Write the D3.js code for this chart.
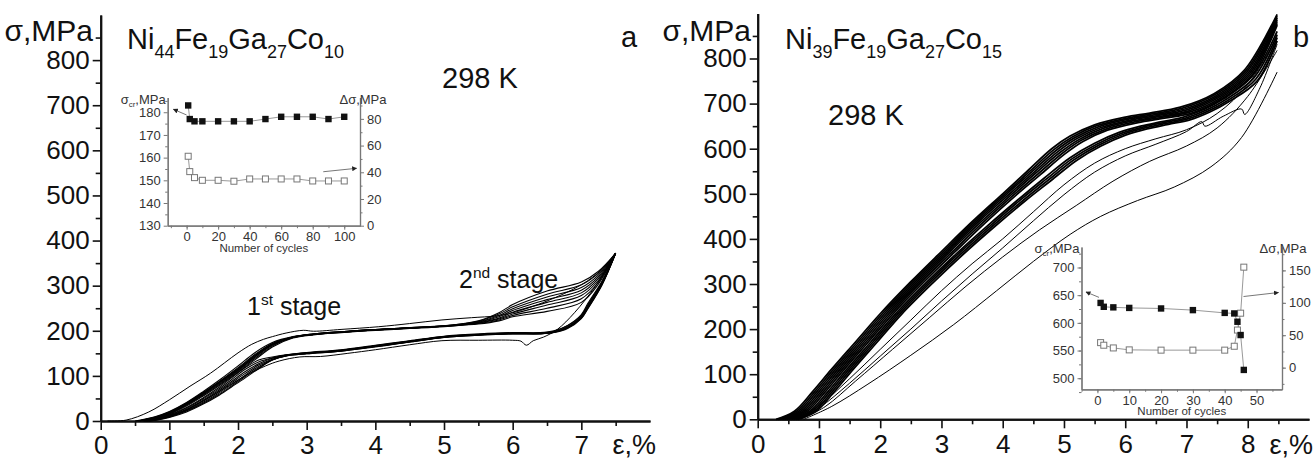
<!DOCTYPE html>
<html>
<head>
<meta charset="utf-8">
<script src="https://cdn.jsdelivr.net/npm/d3@7"></script>
<style>
	body { margin: 0; background: #fff; }
	svg { display: block; font-family: "Liberation Sans", Arial, sans-serif; }
</style>
</head>
<body>
<svg id="chart" width="1313" height="459"></svg>
<script>
// ---------- data: panel a (Ni44Fe19Ga27Co10), strain %, stress MPa ----------
const aFirstLoad = [[0.1,0],[0.37,2],[0.7,20],[1.0,47],[1.3,77],[1.6,106],[2.0,151],[2.2,170],[2.37,181],[2.5,187],[2.7,195],[2.95,201],[3.1,199],[3.5,203],[4.05,209],[4.5,216],[4.97,224],[5.4,229],[5.76,233],[6.0,240],[6.5,266],[7.0,302],[7.3,336],[7.5,372]];
const aFirstUnload = [[7.5,372],[7.2,298],[6.9,240],[6.65,203],[6.45,186],[6.3,178],[6.2,168],[6.12,177],[6.0,179],[5.5,179],[4.97,178],[4.5,169],[4.0,158],[3.6,150],[3.2,143],[2.9,142],[2.6,133],[2.4,122],[2.1,100],[1.8,72],[1.5,45],[1.2,21],[0.9,6],[0.7,0]];
const aLoading = [
	[[0.50,0],[0.8,10],[1.0,21],[1.25,41],[1.5,66],[1.75,93],[2.0,122],[2.25,152],[2.5,174],[2.8,187],[3.1,193],[3.5,198],[4.0,203],[4.5,207],[5.0,211],[5.5,222],[5.8,240],[6.0,258],[6.5,288],[7.0,308],[7.25,332],[7.5,372]],
	[[0.52,0],[0.8,9],[1.0,20],[1.25,40],[1.5,64],[1.75,90],[2.0,118],[2.25,148],[2.5,172],[2.8,186],[3.1,193],[3.5,198],[4.0,203],[4.5,207],[5.0,211],[5.5,221],[5.8,237],[6.0,253],[6.5,281],[7.0,302],[7.25,328],[7.5,372]],
	[[0.55,0],[0.8,8],[1.0,19],[1.25,38],[1.5,62],[1.75,88],[2.0,115],[2.25,145],[2.5,170],[2.8,186],[3.1,192],[3.5,197],[4.0,202],[4.5,206],[5.0,210],[5.5,220],[5.8,234],[6.0,249],[6.5,275],[7.0,296],[7.25,324],[7.5,372]],
	[[0.57,0],[0.8,7],[1.0,17],[1.25,36],[1.5,60],[1.75,85],[2.0,112],[2.25,142],[2.5,168],[2.8,185],[3.1,192],[3.5,197],[4.0,202],[4.5,206],[5.0,210],[5.5,219],[5.8,231],[6.0,245],[6.5,269],[7.0,290],[7.25,320],[7.5,372]],
	[[0.60,0],[0.8,6],[1.0,16],[1.25,35],[1.5,58],[1.75,83],[2.0,110],[2.25,139],[2.5,166],[2.8,185],[3.1,192],[3.5,197],[4.0,202],[4.5,206],[5.0,210],[5.5,218],[5.8,228],[6.0,241],[6.5,263],[7.0,284],[7.25,316],[7.5,372]],
	[[0.62,0],[0.8,5],[1.0,15],[1.25,33],[1.5,56],[1.75,81],[2.0,108],[2.25,136],[2.5,164],[2.8,184],[3.1,191],[3.5,196],[4.0,201],[4.5,205],[5.0,209],[5.5,217],[5.8,226],[6.0,237],[6.5,257],[7.0,278],[7.25,312],[7.5,372]],
	[[0.55,0],[0.8,8],[1.0,19],[1.25,39],[1.5,63],[1.75,89],[2.0,116],[2.25,146],[2.5,171],[2.8,186],[3.1,193],[3.5,198],[4.0,203],[4.5,207],[5.0,211],[5.5,216],[5.8,224],[6.0,234],[6.5,250],[7.0,271],[7.25,308],[7.5,372]],
	[[0.58,0],[0.8,7],[1.0,18],[1.25,37],[1.5,61],[1.75,87],[2.0,113],[2.25,143],[2.5,169],[2.8,185],[3.1,192],[3.5,197],[4.0,202],[4.5,206],[5.0,210],[5.5,215],[5.8,222],[6.0,231],[6.5,243],[7.0,263],[7.25,304],[7.5,372]]
];
const aUnloading = [
	[[7.5,372],[7.3,310],[7.1,262],[7.0,236],[6.8,212],[6.6,200],[6.4,196],[6.0,196],[5.5,193],[5.0,188],[4.5,178],[4.0,168],[3.5,158],[3.0,152],[2.7,147],[2.5,142],[2.3,135],[2.1,118],[1.9,95],[1.7,72],[1.5,52],[1.25,30],[1.0,14],[0.8,5],[0.62,0]],
	[[7.5,372],[7.3,308],[7.1,259],[7.0,234],[6.8,211],[6.6,199],[6.4,195],[6.0,195],[5.5,192],[5.0,187],[4.5,177],[4.0,167],[3.5,157],[3.0,151],[2.7,146],[2.5,140],[2.3,131],[2.1,114],[1.9,91],[1.7,69],[1.5,50],[1.25,28],[1.0,13],[0.8,4],[0.63,0]],
	[[7.5,372],[7.3,306],[7.1,257],[7.0,232],[6.8,209],[6.6,198],[6.4,195],[6.0,195],[5.5,192],[5.0,187],[4.5,177],[4.0,166],[3.5,157],[3.0,151],[2.7,146],[2.5,139],[2.3,127],[2.1,109],[1.9,87],[1.7,66],[1.5,47],[1.25,26],[1.0,12],[0.8,4],[0.64,0]],
	[[7.5,372],[7.3,304],[7.1,255],[7.0,231],[6.8,208],[6.6,197],[6.4,194],[6.0,194],[5.5,191],[5.0,186],[4.5,176],[4.0,166],[3.5,156],[3.0,150],[2.7,145],[2.5,137],[2.3,124],[2.1,105],[1.9,84],[1.7,63],[1.5,45],[1.25,25],[1.0,11],[0.8,3],[0.65,0]],
	[[7.5,372],[7.3,303],[7.1,253],[7.0,229],[6.8,207],[6.6,197],[6.4,194],[6.0,194],[5.5,191],[5.0,186],[4.5,176],[4.0,165],[3.5,156],[3.0,150],[2.7,145],[2.5,136],[2.3,121],[2.1,101],[1.9,80],[1.7,60],[1.5,42],[1.25,23],[1.0,10],[0.8,3],[0.66,0]],
	[[7.5,372],[7.3,302],[7.1,251],[7.0,228],[6.8,206],[6.6,196],[6.4,193],[6.0,193],[5.5,190],[5.0,185],[4.5,175],[4.0,165],[3.5,155],[3.0,149],[2.7,144],[2.5,135],[2.3,118],[2.1,98],[1.9,77],[1.7,57],[1.5,40],[1.25,22],[1.0,9],[0.8,2],[0.67,0]],
	[[7.5,372],[7.3,301],[7.1,250],[7.0,227],[6.8,205],[6.6,196],[6.4,193],[6.0,193],[5.5,190],[5.0,185],[4.5,175],[4.0,164],[3.5,155],[3.0,149],[2.7,144],[2.5,135],[2.3,116],[2.1,95],[1.9,75],[1.7,55],[1.5,38],[1.25,20],[1.0,8],[0.8,2],[0.68,0]]
];

// ---------- data: panel b (Ni39Fe19Ga27Co15) ----------
const bUpper = [
	[[0.30,0],[0.6,18],[0.9,62],[1.2,110],[1.6,172],[2.0,234],[2.5,305],[3.0,372],[3.5,438],[4.0,500],[4.4,550],[4.8,600],[5.1,628],[5.5,653],[6.0,670],[6.4,679],[6.9,692],[7.45,722],[7.95,775],[8.48,898]],
	[[0.335,0],[0.635,18],[0.935,62],[1.235,110],[1.635,172],[2.035,234],[2.535,305],[3.035,372],[3.535,438],[4.035,500],[4.435,549],[4.835,598],[5.135,626],[5.535,651],[6.035,668],[6.435,677],[6.935,690],[7.47,720],[7.97,773],[8.48,894]],
	[[0.37,0],[0.67,18],[0.97,62],[1.27,110],[1.67,172],[2.07,234],[2.57,305],[3.07,372],[3.57,438],[4.07,500],[4.47,548],[4.87,596],[5.17,624],[5.57,649],[6.07,666],[6.47,675],[6.97,688],[7.49,718],[7.99,771],[8.48,890]],
	[[0.405,0],[0.705,18],[1.005,62],[1.305,110],[1.705,172],[2.105,234],[2.605,305],[3.105,372],[3.605,438],[4.105,499],[4.505,547],[4.905,594],[5.205,622],[5.605,647],[6.105,664],[6.505,673],[7.005,686],[7.51,716],[8.01,769],[8.48,886]],
	[[0.44,0],[0.74,18],[1.04,62],[1.34,110],[1.74,172],[2.14,234],[2.64,305],[3.14,372],[3.64,437],[4.14,498],[4.54,546],[4.94,592],[5.24,620],[5.64,645],[6.14,662],[6.54,671],[7.04,684],[7.53,714],[8.03,767],[8.48,882]],
	[[0.475,0],[0.775,18],[1.075,62],[1.375,110],[1.775,172],[2.175,234],[2.675,305],[3.175,371],[3.675,436],[4.175,497],[4.575,544],[4.975,590],[5.275,618],[5.675,643],[6.175,660],[6.575,669],[7.075,682],[7.55,712],[8.05,765],[8.48,878]],
	[[0.51,0],[0.81,18],[1.11,62],[1.41,110],[1.81,172],[2.21,234],[2.71,304],[3.21,370],[3.71,435],[4.21,496],[4.61,542],[5.01,588],[5.31,616],[5.71,641],[6.21,658],[6.61,667],[7.11,680],[7.57,710],[8.07,763],[8.48,874]]
];
const bLower = [
	[[0.55,0],[0.85,18],[1.15,62],[1.45,110],[1.85,172],[2.25,234],[2.75,303],[3.25,368],[3.76,430],[4.26,488],[4.68,535],[5.1,580],[5.5,612],[5.9,636],[6.25,650],[6.6,660],[6.95,670],[7.3,688],[7.6,710],[8.07,760],[8.48,860]],
	[[0.585,0],[0.885,18],[1.185,62],[1.485,110],[1.885,172],[2.285,234],[2.785,303],[3.285,368],[3.795,429],[4.295,487],[4.715,533],[5.135,578],[5.535,610],[5.935,634],[6.285,648],[6.635,658],[6.985,668],[7.33,686],[7.63,708],[8.1,757],[8.48,853]],
	[[0.62,0],[0.92,18],[1.22,62],[1.52,110],[1.92,172],[2.32,234],[2.82,303],[3.32,367],[3.83,428],[4.33,485],[4.75,531],[5.17,576],[5.57,608],[5.97,632],[6.32,646],[6.67,656],[7.02,666],[7.36,684],[7.66,706],[8.13,754],[8.48,846]],
	[[0.655,0],[0.955,18],[1.255,62],[1.555,110],[1.955,172],[2.355,234],[2.855,302],[3.355,366],[3.865,427],[4.365,484],[4.785,529],[5.205,574],[5.605,606],[6.005,630],[6.355,644],[6.705,654],[7.055,664],[7.39,682],[7.69,704],[8.16,751],[8.48,839]]
];
const bThin = [
	[[0.6,0],[1.0,30],[1.5,90],[2.0,155],[2.5,220],[3.0,285],[3.5,345],[4.0,400],[4.5,460],[5.0,520],[5.5,568],[6.0,600],[6.5,622],[7.0,642],[7.5,678],[8.0,742],[8.48,848]],
	[[0.65,0],[1.0,25],[1.5,80],[2.0,140],[2.5,200],[3.0,262],[3.5,322],[4.0,380],[4.5,440],[5.0,498],[5.5,548],[6.0,584],[6.5,610],[7.0,638],[7.25,660],[7.3,650],[7.6,672],[7.9,688],[7.95,676],[8.2,735],[8.48,832]],
	[[0.7,0],[1.1,28],[1.6,85],[2.2,155],[2.8,225],[3.4,295],[4.0,360],[4.6,420],[5.2,474],[5.8,528],[6.4,572],[7.0,606],[7.5,646],[8.0,716],[8.48,818]],
	[[0.75,0],[1.2,28],[1.8,78],[2.5,142],[3.2,210],[3.9,285],[4.5,350],[5.1,410],[5.6,450],[6.2,485],[6.8,515],[7.4,560],[7.9,625],[8.48,770]]
];

// ---------- insets ----------
const aCycles = [1, 2, 5, 10, 20, 30, 40, 50, 60, 70, 80, 90, 100];
const aSigmaCr = [183, 177, 176, 176, 176, 176, 176, 177, 178, 178, 178, 177, 178];
const aDeltaSigma = [52, 40.5, 36, 34, 34, 33.3, 35, 35, 35, 35, 33.5, 33.5, 33.5];
const bCycles = [1, 2, 5, 10, 20, 30, 40, 43, 44, 45, 46];
const bSigmaCr = [636, 629, 628, 627, 626, 623, 618, 617, 602, 578, 515];
const bDeltaSigma = [38.6, 34.6, 30.4, 27.4, 27, 27, 27, 33, 58, 84, 155];

const svg = d3.select("#chart");
const FONT = '"Liberation Sans", Arial, sans-serif';

svg.append("defs")
	.append("marker")
	.attr("id", "arr")
	.attr("viewBox", "0 0 10 10")
	.attr("refX", 9)
	.attr("refY", 5)
	.attr("markerWidth", 5)
	.attr("markerHeight", 5)
	.attr("orient", "auto")
	.append("path")
	.attr("d", "M0,0 L10,5 L0,10 z")
	.attr("fill", "#222");

// main scales
const xa = d3.scaleLinear().domain([0, 8]).range([100.7, 650]);
const ya = d3.scaleLinear().domain([0, 900]).range([421, 15]);
const xb = d3.scaleLinear().domain([0, 9]).range([757.7, 1309]);
const yb = d3.scaleLinear().domain([0, 900]).range([419.3, 13.4]);

function styleAxis(g, size) {
	g.attr("font-size", size).attr("font-family", FONT);
	g.select(".domain").attr("stroke-width", 2).attr("stroke", "#111");
	g.selectAll(".tick line").attr("stroke-width", 1.6).attr("stroke", "#111");
	g.selectAll(".tick text").attr("fill", "#111");
}

function mainAxes(x, y, xLabels, xMinor) {
	const y0 = y(0);
	const x0 = x.range()[0];
	svg.append("g")
		.attr("transform", `translate(0,${y0})`)
		.call(d3.axisBottom(x).tickValues(xMinor).tickSize(5).tickSizeOuter(0).tickFormat(""))
		.call(styleAxis, 26);
	svg.append("g")
		.attr("transform", `translate(0,${y0})`)
		.call(d3.axisBottom(x).tickValues(xLabels).tickSize(9).tickSizeOuter(0).tickPadding(6))
		.call(styleAxis, 26);
	svg.append("g")
		.attr("transform", `translate(${x0},0)`)
		.call(d3.axisLeft(y).tickValues(d3.range(50, 900, 100)).tickSize(5).tickSizeOuter(0).tickFormat(""))
		.call(styleAxis, 26);
	svg.append("g")
		.attr("transform", `translate(${x0},0)`)
		.call(d3.axisLeft(y).tickValues(d3.range(0, 900, 100)).tickSize(8).tickSizeOuter(0).tickPadding(3))
		.call(styleAxis, 26);
}

mainAxes(xa, ya, d3.range(0, 8, 1), d3.range(0.5, 8, 1));
mainAxes(xb, yb, d3.range(0, 9, 1), d3.range(0.5, 9, 1));

// curves
function drawCurves(list, x, y, w) {
	const line = d3.line()
		.x(d => x(d[0]))
		.y(d => y(d[1]))
		.curve(d3.curveCatmullRom.alpha(0.5));
	svg.append("g")
		.selectAll("path")
		.data(list)
		.join("path")
		.attr("d", line)
		.attr("fill", "none")
		.attr("stroke", "#000")
		.attr("stroke-width", w);
}
drawCurves([aFirstLoad, aFirstUnload], xa, ya, 1);
drawCurves(aLoading, xa, ya, 1.1);
drawCurves(aUnloading, xa, ya, 1.1);
drawCurves(bThin, xb, yb, 1);
drawCurves(bLower, xb, yb, 1.8);
drawCurves(bUpper, xb, yb, 1.8);

// texts for main panels
function addText(x, y, size, parts, anchor) {
	const t = svg.append("text")
		.attr("x", x).attr("y", y)
		.attr("font-size", size)
		.attr("font-family", FONT)
		.attr("fill", "#111")
		.attr("text-anchor", anchor || "start");
	let shift = 0;
	parts.forEach(p => {
		const s = t.append("tspan").text(p.t);
		const target = p.sub ? size * 0.3 : p.sup ? -size * 0.42 : 0;
		s.attr("dy", target - shift);
		shift = target;
		if (p.sub || p.sup) s.attr("font-size", size * 0.62);
	});
	return t;
}

addText(93, 41, 30, [{ t: "σ,MPa" }], "end");
addText(127, 49, 29, [{ t: "Ni" }, { t: "44", sub: 1 }, { t: "Fe" }, { t: "19", sub: 1 }, { t: "Ga" }, { t: "27", sub: 1 }, { t: "Co" }, { t: "10", sub: 1 }]);
addText(621, 47, 29, [{ t: "a" }]);
addText(442, 88, 29, [{ t: "298 K" }]);
addText(247, 315, 25, [{ t: "1" }, { t: "st", sup: 1 }, { t: " stage" }]);
addText(459, 288, 25, [{ t: "2" }, { t: "nd", sup: 1 }, { t: " stage" }]);
addText(656, 454, 27, [{ t: "ε,%" }], "end");

addText(751, 41, 30, [{ t: "σ,MPa" }], "end");
addText(785, 49, 29, [{ t: "Ni" }, { t: "39", sub: 1 }, { t: "Fe" }, { t: "19", sub: 1 }, { t: "Ga" }, { t: "27", sub: 1 }, { t: "Co" }, { t: "15", sub: 1 }]);
addText(1293, 47, 29, [{ t: "b" }]);
addText(828, 125, 29, [{ t: "298 K" }]);
addText(1313, 454, 27, [{ t: "ε,%" }], "end");

// ---------- inset drawing ----------
function styleInset(g) {
	g.attr("font-size", 13).attr("font-family", FONT);
	g.select(".domain").attr("stroke", "#777").attr("stroke-width", 1.2);
	g.selectAll(".tick line").attr("stroke", "#777");
	g.selectAll(".tick text").attr("fill", "#333");
}

function inset(o) {
	const [l, r] = o.x.range();
	const bottom = o.yl.range()[0];
	svg.append("g").attr("transform", `translate(0,${bottom})`)
		.call(d3.axisBottom(o.x).tickValues(o.xMinor).tickSize(2.5).tickSizeOuter(0).tickFormat(""))
		.call(styleInset);
	svg.append("g").attr("transform", `translate(0,${bottom})`)
		.call(d3.axisBottom(o.x).tickValues(o.xTicks).tickSize(4).tickSizeOuter(0).tickPadding(2))
		.call(styleInset);
	svg.append("g").attr("transform", `translate(${l},0)`)
		.call(d3.axisLeft(o.yl).tickValues(o.lMinor).tickSize(2.5).tickSizeOuter(0).tickFormat(""))
		.call(styleInset);
	svg.append("g").attr("transform", `translate(${l},0)`)
		.call(d3.axisLeft(o.yl).tickValues(o.lTicks).tickSize(4).tickSizeOuter(0).tickPadding(3))
		.call(styleInset);
	svg.append("g").attr("transform", `translate(${r},0)`)
		.call(d3.axisRight(o.yr).tickValues(o.rMinor).tickSize(2.5).tickSizeOuter(0).tickFormat(""))
		.call(styleInset);
	svg.append("g").attr("transform", `translate(${r},0)`)
		.call(d3.axisRight(o.yr).tickValues(o.rTicks).tickSize(4).tickSizeOuter(0).tickPadding(3))
		.call(styleInset);

	const g = svg.append("g");
	const lineL = d3.line().x((d, i) => o.x(o.cycles[i])).y(d => o.yl(d));
	const lineR = d3.line().x((d, i) => o.x(o.cycles[i])).y(d => o.yr(d));
	g.append("path").attr("d", lineR(o.dsig)).attr("fill", "none").attr("stroke", "#999").attr("stroke-width", 1);
	g.append("path").attr("d", lineL(o.scr)).attr("fill", "none").attr("stroke", "#999").attr("stroke-width", 1);
	g.selectAll(".open").data(o.dsig).join("rect")
		.attr("x", (d, i) => o.x(o.cycles[i]) - 3)
		.attr("y", d => o.yr(d) - 3)
		.attr("width", 6).attr("height", 6)
		.attr("fill", "#fff").attr("stroke", "#777").attr("stroke-width", 1);
	g.selectAll(".fill").data(o.scr).join("rect")
		.attr("x", (d, i) => o.x(o.cycles[i]) - 3.2)
		.attr("y", d => o.yl(d) - 3.2)
		.attr("width", 6.4).attr("height", 6.4)
		.attr("fill", "#111");

	// arrows pointing to the axes
	g.append("line")
		.attr("x1", o.x(o.arrL[0])).attr("y1", o.yl(o.arrL[1]))
		.attr("x2", o.x(o.arrL[2])).attr("y2", o.yl(o.arrL[3]))
		.attr("stroke", "#777").attr("marker-end", "url(#arr)");
	g.append("line")
		.attr("x1", o.x(o.arrR[0])).attr("y1", o.yr(o.arrR[1]))
		.attr("x2", o.x(o.arrR[2])).attr("y2", o.yr(o.arrR[3]))
		.attr("stroke", "#777").attr("marker-end", "url(#arr)");

	const top = o.yl.range()[1];
	const tl = g.append("text").attr("x", l - 2).attr("y", top + 6).attr("text-anchor", "end")
		.attr("font-size", 13).attr("font-family", FONT).attr("fill", "#333");
	tl.append("tspan").text("σ");
	tl.append("tspan").text("cr").attr("font-size", 8).attr("dy", 3);
	tl.append("tspan").text(",MPa").attr("dy", -3);
	g.append("text").attr("x", Math.min(r + 3, 1283)).attr("y", top + 6).attr("text-anchor", "middle")
		.attr("font-size", 13).attr("font-family", FONT).attr("fill", "#333").text("Δσ,MPa");
	g.append("text").attr("x", (l + r) / 2).attr("y", bottom + 26).attr("text-anchor", "middle")
		.attr("font-size", 11.5).attr("font-family", FONT).attr("fill", "#333").text("Number of cycles");
}

inset({
	x: d3.scaleLinear().domain([-12, 110]).range([167.7, 360]),
	yl: d3.scaleLinear().domain([130, 186.5]).range([225.7, 97.5]),
	yr: d3.scaleLinear().domain([0, 96]).range([225.7, 97.5]),
	xTicks: d3.range(0, 101, 20), xMinor: d3.range(-10, 110, 10),
	lTicks: d3.range(130, 181, 10), lMinor: d3.range(135, 186, 10),
	rTicks: d3.range(0, 81, 20), rMinor: d3.range(10, 91, 20),
	cycles: aCycles, scr: aSigmaCr, dsig: aDeltaSigma,
	arrL: [0, 178.8, -8.4, 181.3],
	arrR: [86.7, 40.4, 107.9, 43]
});

inset({
	x: d3.scaleLinear().domain([-5, 58]).range([1081.5, 1282]),
	yl: d3.scaleLinear().domain([480, 737]).range([389.3, 247]),
	yr: d3.scaleLinear().domain([-33.4, 186.1]).range([389.3, 247]),
	xTicks: d3.range(0, 51, 10), xMinor: d3.range(-5, 58, 5),
	lTicks: d3.range(500, 701, 50), lMinor: d3.range(475, 737, 25),
	rTicks: d3.range(0, 151, 50), rMinor: d3.range(-25, 186, 25),
	cycles: bCycles, scr: bSigmaCr, dsig: bDeltaSigma,
	arrL: [0.5, 646, -3.6, 655.8],
	arrR: [45.9, 109.7, 56.9, 115.9]
});
</script>
</body>
</html>
